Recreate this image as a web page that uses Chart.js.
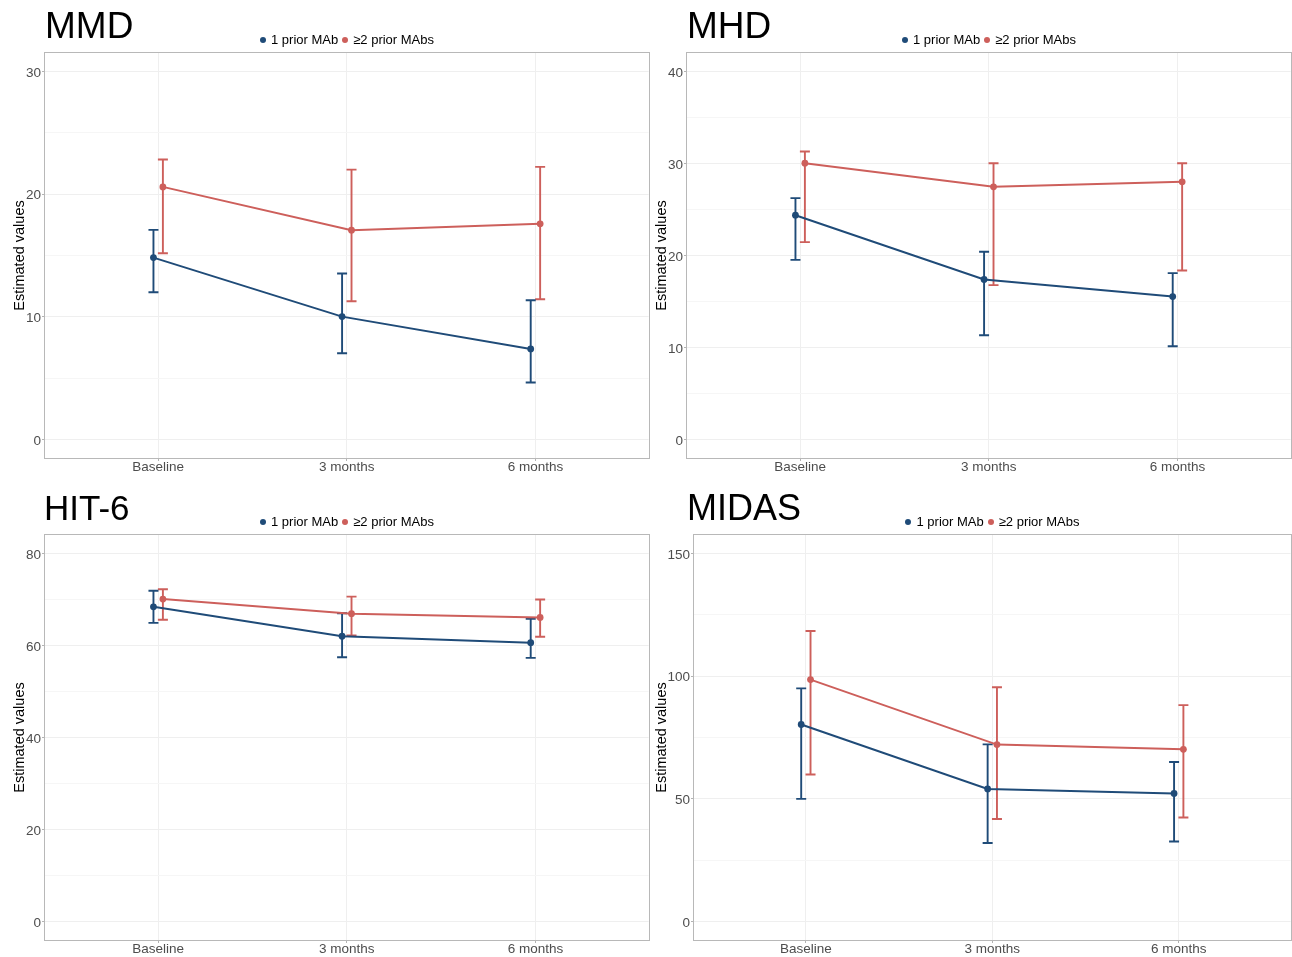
<!DOCTYPE html>
<html><head><meta charset="utf-8">
<script src="https://cdn.jsdelivr.net/npm/chart.js@4.4.1/dist/chart.umd.min.js"></script>
<style>
body{margin:0;width:1292px;height:957px;overflow:hidden;background:#fff;position:relative;font-family:"Liberation Sans",Arial,sans-serif}
canvas.panel{position:absolute}
.title{position:absolute;color:#000;line-height:1;white-space:nowrap}
.legend{position:absolute;display:flex;justify-content:center;align-items:center;font-size:13px;color:#000;white-space:nowrap;height:16px;line-height:16px}
.dot{display:inline-block;width:6px;height:6px;border-radius:50%;margin-right:5px}
.gap{display:inline-block;width:4px}
</style>
</head><body>
<script>
// ---------- DATA ----------
const categories = ['Baseline', '3 months', '6 months'];
const seriesNames = ['1 prior MAb', '\u22652 prior MAbs'];

// MMD
const mmdOneMean = [14.83, 10.02, 7.39];
const mmdOneLow  = [12.0, 7.03, 4.65];
const mmdOneHigh = [17.09, 13.53, 11.35];
const mmdTwoMean = [20.59, 17.06, 17.58];
const mmdTwoLow  = [15.18, 11.27, 11.43];
const mmdTwoHigh = [22.82, 22.0, 22.22];
const mmdTicks = [0, 5, 10, 15, 20, 25, 30];
const mmdLabels = [0, 10, 20, 30];

// MHD
const mhdOneMean = [24.38, 17.39, 15.54];
const mhdOneLow  = [19.53, 11.34, 10.14];
const mhdOneHigh = [26.23, 20.4, 18.08];
const mhdTwoMean = [30.03, 27.46, 28.0];
const mhdTwoLow  = [21.45, 16.78, 18.37];
const mhdTwoHigh = [31.3, 30.03, 30.03];
const mhdTicks = [0, 5, 10, 15, 20, 25, 30, 35, 40];
const mhdLabels = [0, 10, 20, 30, 40];

// HIT-6
const hitOneMean = [68.4, 62.0, 60.6];
const hitOneLow  = [64.9, 57.45, 57.3];
const hitOneHigh = [71.9, 67.0, 65.8];
const hitTwoMean = [70.07, 66.9, 66.1];
const hitTwoLow  = [65.6, 62.2, 61.9];
const hitTwoHigh = [72.2, 70.6, 70.0];
const hitTicks = [0, 10, 20, 30, 40, 50, 60, 70, 80];
const hitLabels = [0, 20, 40, 60, 80];

// MIDAS
const midOneMean = [80.3, 54.05, 52.2];
const midOneLow  = [50.0, 32.0, 32.6];
const midOneHigh = [95.0, 72.2, 65.0];
const midTwoMean = [98.6, 72.1, 70.2];
const midTwoLow  = [59.9, 41.8, 42.4];
const midTwoHigh = [118.4, 95.5, 88.2];
const midTicks = [0, 25, 50, 75, 100, 125, 150];
const midLabels = [0, 50, 100, 150];

// ---------- STYLE ----------
const BLUE = '#1f4b78';
const RED = '#cd5f5b';
const FONT = "'Liberation Sans', Arial, sans-serif";
Chart.defaults.font.family = FONT;

const panelPlugin = {
  id: 'panelPlugin',
  beforeDatasetsDraw(chart) {
    const {ctx, scales: {x, y}} = chart;
    chart.data.datasets.forEach(ds => {
      ctx.save();
      ctx.strokeStyle = ds.borderColor;
      ctx.lineWidth = 1.9;
      ds.errLow.forEach((lo, i) => {
        const px = x.getPixelForValue(i + 1 + ds.dodge);
        const yl = y.getPixelForValue(lo);
        const yh = y.getPixelForValue(ds.errHigh[i]);
        ctx.beginPath();
        ctx.moveTo(px, yl); ctx.lineTo(px, yh);
        ctx.moveTo(px - 5, yl); ctx.lineTo(px + 5, yl);
        ctx.moveTo(px - 5, yh); ctx.lineTo(px + 5, yh);
        ctx.stroke();
      });
      ctx.restore();
    });
  },
  afterDraw(chart) {
    const {ctx, chartArea: a} = chart;
    ctx.save();
    ctx.strokeStyle = '#b8b8b8';
    ctx.lineWidth = 1;
    ctx.strokeRect(Math.round(a.left) - 0.5, Math.round(a.top) - 0.5, Math.round(a.right - a.left) + 1, Math.round(a.bottom - a.top) + 1);
    ctx.restore();
  }
};

function makePanel(p) {
  const cw = p.w + 2; // canvas slightly wider; Chart.js keeps a few px on the right
  const c = document.createElement('canvas');
  c.className = 'panel';
  c.width = cw; c.height = p.h;
  c.style.left = p.left + 'px'; c.style.top = p.top + 'px';
  c.style.width = cw + 'px'; c.style.height = p.h + 'px';
  document.body.appendChild(c);

  const t = document.createElement('div');
  t.className = 'title';
  t.textContent = p.title;
  t.style.fontSize = p.titleSize + 'px';
  t.style.left = p.titleLeft + 'px';
  t.style.top = (p.top + p.titleTop) + 'px';
  document.body.appendChild(t);

  const lg = document.createElement('div');
  lg.className = 'legend';
  lg.style.left = (p.left + p.yW) + 'px';
  lg.style.width = (p.w - p.yW - 1) + 'px';
  lg.style.top = (p.top + 32) + 'px';
  lg.innerHTML = '<span class="dot" style="background:' + BLUE + '"></span>' + seriesNames[0] +
    '<span class="gap"></span><span class="dot" style="background:' + RED + '"></span>' + seriesNames[1];
  document.body.appendChild(lg);

  const dodge = 0.025;
  const mk = (means, lo, hi, color, dg) => ({
    label: '', data: means.map((v, i) => ({x: i + 1 + dg, y: v})),
    borderColor: color, backgroundColor: color, borderWidth: 2,
    pointRadius: 3.4, pointHoverRadius: 3.4, pointBorderWidth: 0,
    tension: 0, fill: false, errLow: lo, errHigh: hi, dodge: dg
  });

  new Chart(c, {
    type: 'line',
    data: {datasets: [
      mk(p.twoMean, p.twoLow, p.twoHigh, RED, dodge),
      mk(p.oneMean, p.oneLow, p.oneHigh, BLUE, -dodge)
    ]},
    options: {
      responsive: false, animation: false, devicePixelRatio: 1,
      layout: {padding: {top: 53, right: 0, left: 0, bottom: 0}},
      plugins: {legend: {display: false}, tooltip: {enabled: false}, title: {display: false}},
      scales: {
        x: {
          type: 'linear', min: 0.4, max: 3.6,
          afterBuildTicks: s => { s.ticks = categories.map((cName, i) => ({value: i + 1})); },
          afterFit: s => { s.height = p.xH; },
          ticks: {callback: v => categories[Math.round(v) - 1], color: '#4d4d4d', font: {size: 13.5}, padding: -2, autoSkip: false, maxRotation: 0},
          grid: {color: '#efefef', lineWidth: 1, tickLength: 3, tickColor: '#b3b3b3'},
          border: {display: false}
        },
        y: {
          type: 'linear', min: p.yMin, max: p.yMax,
          afterBuildTicks: s => { s.ticks = p.yTicks.map(v => ({value: v})); },
          afterFit: s => { s.width = p.yW; },
          ticks: {callback: v => p.yLabels.includes(v) ? String(v) : '', color: '#4d4d4d', font: {size: 13.5}, padding: 1, autoSkip: false, labelOffset: 1.5},
          grid: {
            color: ctx => p.yLabels.includes(ctx.tick.value) ? '#efefef' : '#f6f6f6',
            lineWidth: 1, tickLength: 3,
            tickColor: ctx => p.yLabels.includes(ctx.tick.value) ? '#b3b3b3' : 'rgba(0,0,0,0)'
          },
          border: {display: false},
          title: {display: true, text: 'Estimated values', color: '#000', font: {size: 14.5}, padding: {top: p.titlePad, bottom: 0}}
        }
      }
    },
    plugins: [panelPlugin]
  });
}

makePanel({title: 'MMD', left: 0, top: 0, w: 650, h: 480, yW: 45, xH: 22, titleLeft: 45, titleSize: 37, titleTop: 7, titlePad: 11,
  yMin: -1.5, yMax: 31.5, yTicks: mmdTicks, yLabels: mmdLabels,
  oneMean: mmdOneMean, oneLow: mmdOneLow, oneHigh: mmdOneHigh,
  twoMean: mmdTwoMean, twoLow: mmdTwoLow, twoHigh: mmdTwoHigh});

makePanel({title: 'MHD', left: 650, top: 0, w: 642, h: 480, yW: 37, xH: 22, titleLeft: 687, titleSize: 37, titleTop: 7, titlePad: 3.3,
  yMin: -2, yMax: 42, yTicks: mhdTicks, yLabels: mhdLabels,
  oneMean: mhdOneMean, oneLow: mhdOneLow, oneHigh: mhdOneHigh,
  twoMean: mhdTwoMean, twoLow: mhdTwoLow, twoHigh: mhdTwoHigh});

makePanel({title: 'HIT-6', left: 0, top: 482, w: 650, h: 480, yW: 45, xH: 22, titleLeft: 44, titleSize: 35, titleTop: 8, titlePad: 11,
  yMin: -4, yMax: 84, yTicks: hitTicks, yLabels: hitLabels,
  oneMean: hitOneMean, oneLow: hitOneLow, oneHigh: hitOneHigh,
  twoMean: hitTwoMean, twoLow: hitTwoLow, twoHigh: hitTwoHigh});

makePanel({title: 'MIDAS', left: 650, top: 482, w: 642, h: 480, yW: 44, xH: 22, titleLeft: 687, titleSize: 36, titleTop: 7.5, titlePad: 3.3,
  yMin: -7.5, yMax: 157.5, yTicks: midTicks, yLabels: midLabels,
  oneMean: midOneMean, oneLow: midOneLow, oneHigh: midOneHigh,
  twoMean: midTwoMean, twoLow: midTwoLow, twoHigh: midTwoHigh});
</script>
</body></html>
